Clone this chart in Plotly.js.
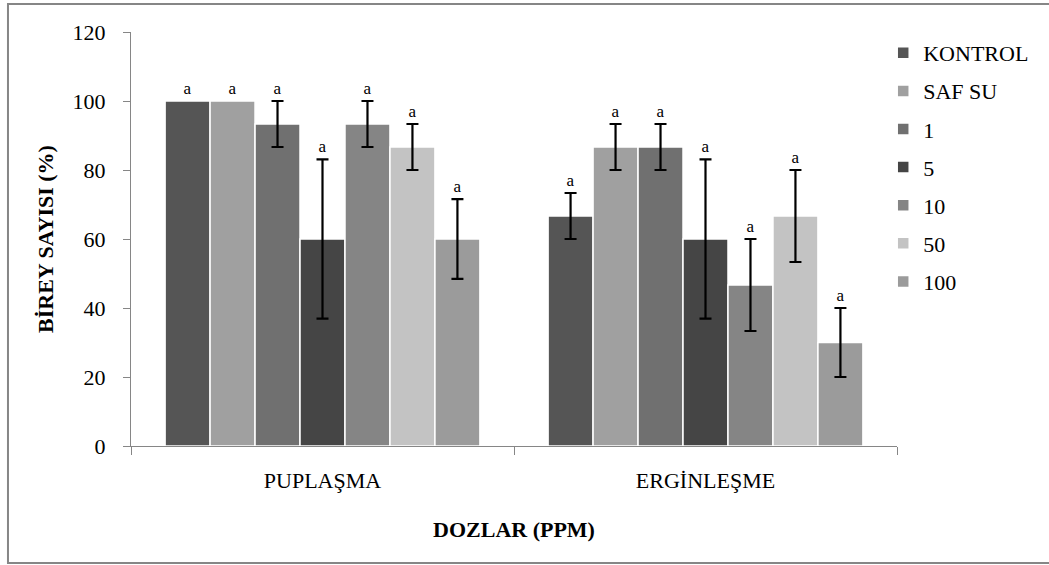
<!DOCTYPE html>
<html>
<head>
<meta charset="utf-8">
<script src="https://cdn.plot.ly/plotly-3.0.1.min.js"></script>
</head>
<body style="margin:0;background:#fff">
<div id="chart" style="width:1049px;height:565px"></div>
<script>
// ---- data ----
var categories = ["PUPLAŞMA", "ERGİNLEŞME"];
var seriesNames = ["KONTROL", "SAF SU", "1", "5", "10", "50", "100"];
var seriesColors = ["#555555", "#a0a0a0", "#707070", "#454545", "#858585", "#c3c3c3", "#9b9b9b"];
var kontrolVals = [100, 66.67];
var kontrolErr  = [NaN, 6.67];
var safSuVals   = [100, 86.67];
var safSuErr    = [NaN, 6.67];
var dose1Vals   = [93.33, 86.67];
var dose1Err    = [6.67, 6.67];
var dose5Vals   = [60, 60];
var dose5Err    = [23.09, 23.09];
var dose10Vals  = [93.33, 46.67];
var dose10Err   = [6.67, 13.33];
var dose50Vals  = [86.67, 66.67];
var dose50Err   = [6.67, 13.33];
var dose100Vals = [60, 30];
var dose100Err  = [11.55, 10];
var letterLabels = ["a", "a"];

var allVals = [kontrolVals, safSuVals, dose1Vals, dose5Vals, dose10Vals, dose50Vals, dose100Vals];
var allErr  = [kontrolErr, safSuErr, dose1Err, dose5Err, dose10Err, dose50Err, dose100Err];

var FONT = "Liberation Serif";
var FS = 22;
var traces = [];
for (var i = 0; i < seriesNames.length; i++) {
  traces.push({
    type: "bar",
    name: seriesNames[i],
    x: categories,
    y: allVals[i],
    offsetgroup: "g" + i,
    legendgroup: "g" + i,
    marker: {color: seriesColors[i], line: {color: "#ffffff", width: 1.5}},
    error_y: {type: "data", array: allErr[i], visible: true, color: "#000000", thickness: 2.2, width: 6},
    hoverinfo: "x+y+name"
  });
}
// invisible carriers for the significance letters (value + error)
for (var j = 0; j < seriesNames.length; j++) {
  var tops = allVals[j].map(function (v, k) { var e = allErr[j][k]; return v + (e ? e : 0); });
  traces.push({
    type: "bar",
    x: categories,
    y: tops,
    offsetgroup: "g" + j,
    legendgroup: "g" + j,
    showlegend: false,
    marker: {color: "rgba(0,0,0,0)", line: {width: 0}},
    text: letterLabels,
    textposition: "outside",
    cliponaxis: false,
    textfont: {family: FONT, size: 17, color: "#000000"},
    hoverinfo: "skip"
  });
}

var layout = {
  width: 1049,
  height: 565,
  margin: {l: 131, r: 152, t: 32, b: 119},
  paper_bgcolor: "#ffffff",
  plot_bgcolor: "#ffffff",
  barmode: "group",
  bargap: 0.178,
  bargroupgap: 0,
  font: {family: FONT, size: FS, color: "#000000"},
  showlegend: true,
  legend: {
    x: 0.982, xanchor: "left", y: 1.0, yanchor: "top",
    font: {family: FONT, size: FS, color: "#000000"},
    tracegroupgap: 6.5,
    itemwidth: 30,
    bgcolor: "rgba(0,0,0,0)"
  },
  xaxis: {
    type: "category",
    showline: true, linecolor: "#868686", linewidth: 1,
    ticks: "outside", tickson: "boundaries", ticklen: 8, tickcolor: "#868686",
    tickfont: {family: FONT, size: FS, color: "#000000"},
    ticklabelstandoff: 15,
    showgrid: false, zeroline: false,
    title: {text: "<b>DOZLAR (PPM)</b>", font: {family: FONT, size: FS, color: "#000000"}, standoff: 29}
  },
  yaxis: {
    range: [0, 120], dtick: 20,
    showline: true, linecolor: "#868686", linewidth: 1,
    ticks: "outside", ticklen: 7, tickcolor: "#868686",
    tickfont: {family: FONT, size: FS, color: "#000000"},
    ticklabelstandoff: 13,
    showgrid: false, zeroline: false,
    title: {text: "<b>BİREY SAYISI (%)</b>", font: {family: FONT, size: FS, color: "#000000"}, standoff: 12}
  },
  shapes: [{
    type: "rect", xref: "paper", yref: "paper",
    x0: -0.1606, x1: 1.2, y0: -0.2826, y1: 1.0676,
    line: {color: "#868686", width: 2}, fillcolor: "rgba(0,0,0,0)", layer: "below"
  }]
};

Plotly.newPlot("chart", traces, layout, {displayModeBar: false});
</script>
</body>
</html>
